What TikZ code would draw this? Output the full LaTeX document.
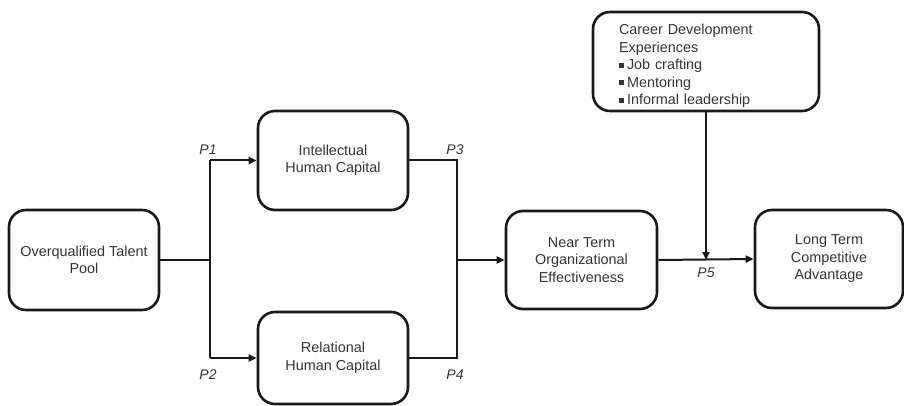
\documentclass[tikz,border=0pt]{standalone}
\usepackage{fontspec}
\setmainfont{Liberation Sans}
\usetikzlibrary{arrows.meta,calc}
\begin{document}
\begin{tikzpicture}[x=1pt,y=-1pt,
 box/.style={draw=black!90, line width=2.6pt, rounded corners=17pt, align=center, inner sep=0pt, text=black!80, font=\fontsize{14.4}{17.5}\selectfont},
 conn/.style={line width=2pt, draw=black!90},
 arr/.style={conn,-{Triangle[length=8pt,width=7pt]}},
 plabel/.style={font=\fontsize{14}{16}\selectfont\itshape, inner sep=0pt, text=black!80}]
\useasboundingbox (0,0) rectangle (904,406);
\node[box, minimum width=150pt, minimum height=100pt] (over) at (84,260) {Overqualified Talent\\Pool};
\node[box, minimum width=150pt, minimum height=99pt] (intel) at (333,160.5) {Intellectual\\Human Capital};
\node[box, minimum width=150pt, minimum height=92pt] (rel) at (333,358) {Relational\\Human Capital};
\node[box, minimum width=151pt, minimum height=98pt] (near) at (581.5,260) {Near Term\\Organizational\\Effectiveness};
\node[box, minimum width=148pt, minimum height=98pt] (long) at (829,259) {Long Term\\Competitive\\Advantage};
\newcommand{\sqbul}{\rule[0.12em]{5pt}{5pt}\hspace{3pt}}
\node[box, align=left, text width=174pt, inner xsep=26pt, minimum height=99pt] (career) at (706,61.5)
 {\rule{0pt}{19pt}Career Development\\Experiences\\\sqbul Job crafting\\\sqbul Mentoring\\\sqbul Informal leadership};
% junctions
\coordinate (j1) at (210,260);
\coordinate (j2) at (457,260);
\coordinate (j3) at (706,260);
\draw[conn] (over.east) -- (j1);
\draw[conn] (intel.west -| j1) -- (rel.west -| j1);
\draw[arr] (intel.west -| j1) -- (intel.west);
\draw[arr] (rel.west -| j1) -- (rel.west);
\draw[conn] (intel.east) -- (intel.east -| j2) -- (rel.east -| j2) -- (rel.east);
\draw[arr] (j2) -- (near.west);
\draw[arr] (near.east) -- (long.west);
\draw[arr] (career.south) -- (j3);
% labels
\node[plabel] (p1) at (208,150) {P1};
\node[plabel] (p3) at (455,150) {P3};
\node[plabel] (p2) at (208,375) {P2};
\node[plabel] (p4) at (455,375) {P4};
\node[plabel] (p5) at (706,273) {P5};
\end{tikzpicture}
\end{document}
